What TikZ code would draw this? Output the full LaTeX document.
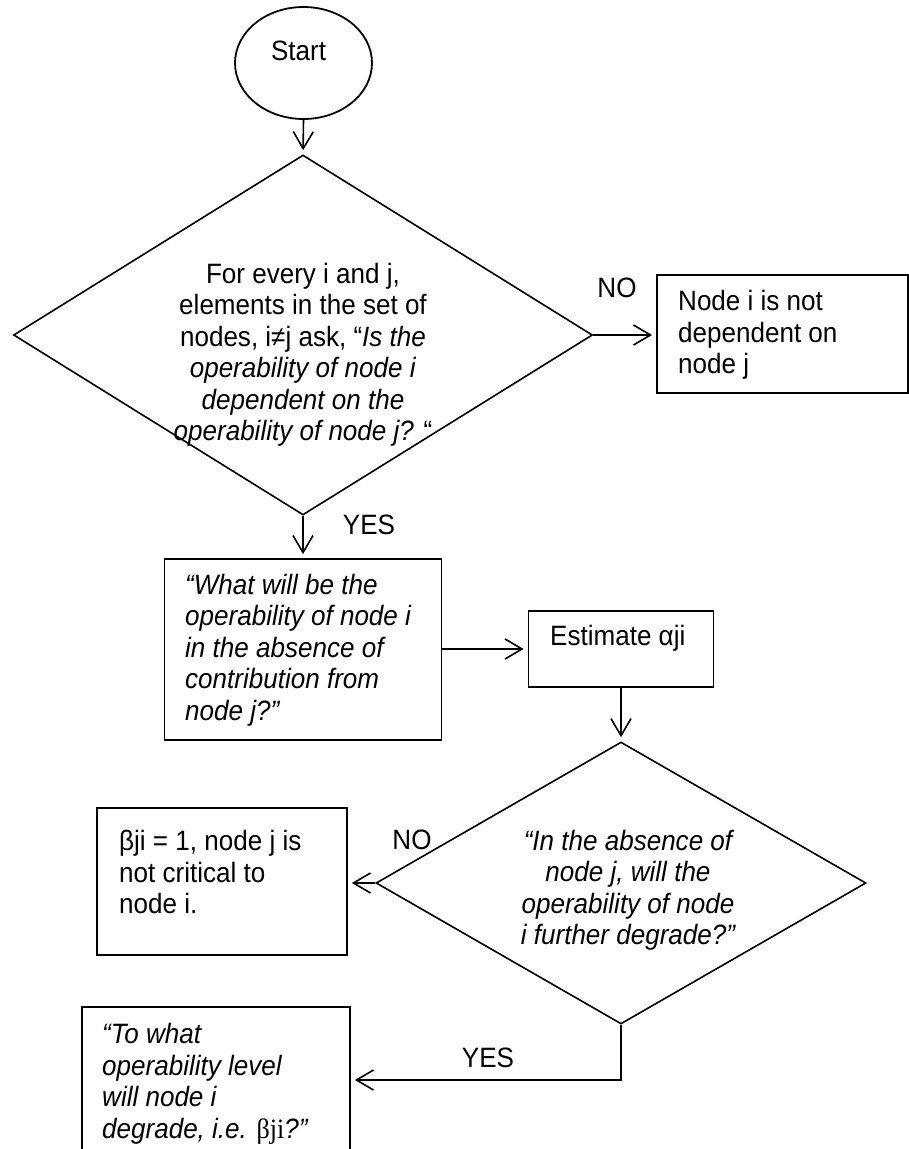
\documentclass[tikz,border=0pt]{standalone}
\usepackage{fontspec}
\setmainfont{Liberation Sans}[FakeStretch=0.93]
\newfontfamily\greekserif{Liberation Serif}[FakeStretch=0.93]
\usetikzlibrary{shapes.geometric,arrows.meta}
\begin{document}
\begin{tikzpicture}[x=1pt,y=-1pt,
  font=\fontsize{28}{31.5}\selectfont,
  box/.style={draw, line width=1.8pt, rectangle, inner sep=0pt},
  decision/.style={draw, line width=1.6pt, diamond, inner sep=0pt},
  txt/.style={inner sep=0pt, align=left, anchor=west},
  itxt/.style={txt, font=\fontsize{28}{31.5}\selectfont\itshape},
  ctxt/.style={inner sep=0pt, align=center},
  lbl/.style={inner sep=0pt},
  flow/.style={draw, line width=1.6pt,
    -{Straight Barb[length=17pt,width=20pt,line width=1.6pt]}, shorten >=4pt},
]
\clip (0,0) rectangle (909,1149);
\fill[white] (0,0) rectangle (909,1149);

% start terminal
\node[ellipse, draw, line width=1.8pt, minimum width=137pt, minimum height=112pt, inner sep=0pt] (start) at (303.5,63) {};
\node[lbl] (startlbl) at (298.5,51) {Start};

% first decision
\node[decision, minimum width=579pt, minimum height=360pt] (q1) at (303,335) {};
\node[ctxt] (q1text) at (303,355) {For every i and j,\\ elements in the set of\\ nodes, i≠j ask, “\textit{Is the}\\ \textit{operability of node i}\\ \textit{dependent on the}\\ \textit{operability of node j?} “};

% not dependent
\node[box, minimum width=251pt, minimum height=118pt] (nodep) at (782.5,334) {};
\node[txt] (nodeptext) at (678,335) {Node i is not\\ dependent on\\ node j};
\node[lbl] (nolbl1) at (617,288) {NO};

% absence question
\node[box, minimum width=277pt, minimum height=181pt] (absq) at (303,649.5) {};
\node[itxt] (absqtext) at (185,650) {“What will be the\\ operability of node i\\ in the absence of\\ contribution from\\ node j?”};
\node[lbl] (yeslbl1) at (369,525) {YES};

% estimate alpha
\node[box, minimum width=185pt, minimum height=76pt] (est) at (621,649) {};
\node[txt] (esttext) at (550,638) {Estimate αji};

% second decision
\node[decision, minimum width=490pt, minimum height=282pt] (q2) at (621,883) {};
\node[ctxt, font=\fontsize{28}{31.5}\selectfont\itshape] (q2text) at (628,890) {“In the absence of\\ node j, will the\\ operability of node\\ i further degrade?”};

% not critical
\node[box, minimum width=250pt, minimum height=147pt] (crit) at (222,881.5) {};
\node[txt] (crittext) at (119,872) {βji = 1, node j is\\ not critical to\\ node i.};
\node[lbl] (nolbl2) at (412,840) {NO};

% degradation level
\node[box, minimum width=268pt, minimum height=173pt] (lev) at (216,1093.5) {};
\node[itxt] (levtext) at (102,1084) {“To what\\ operability level\\ will node i\\ degrade, i.e. {\upshape\greekserif βji}?”};
\node[lbl] (yeslbl2) at (488,1058) {YES};
\coordinate (yesturn) at (621,1080);

% connectors
\draw[flow] (start.south) -- (q1.north);
\draw[flow] (q1.east) -- (q1.east -| nodep.west);
\draw[flow] (q1.south) -- (absq.north);
\draw[flow] (absq.east |- est.west) -- (est.west);
\draw[flow] (est.south) -- (q2.north);
\draw[flow] (q2.west) -- (q2.west -| crit.east);
\draw[flow] (q2.south) -- (yesturn) -- (yesturn -| lev.east);
\end{tikzpicture}
\end{document}
